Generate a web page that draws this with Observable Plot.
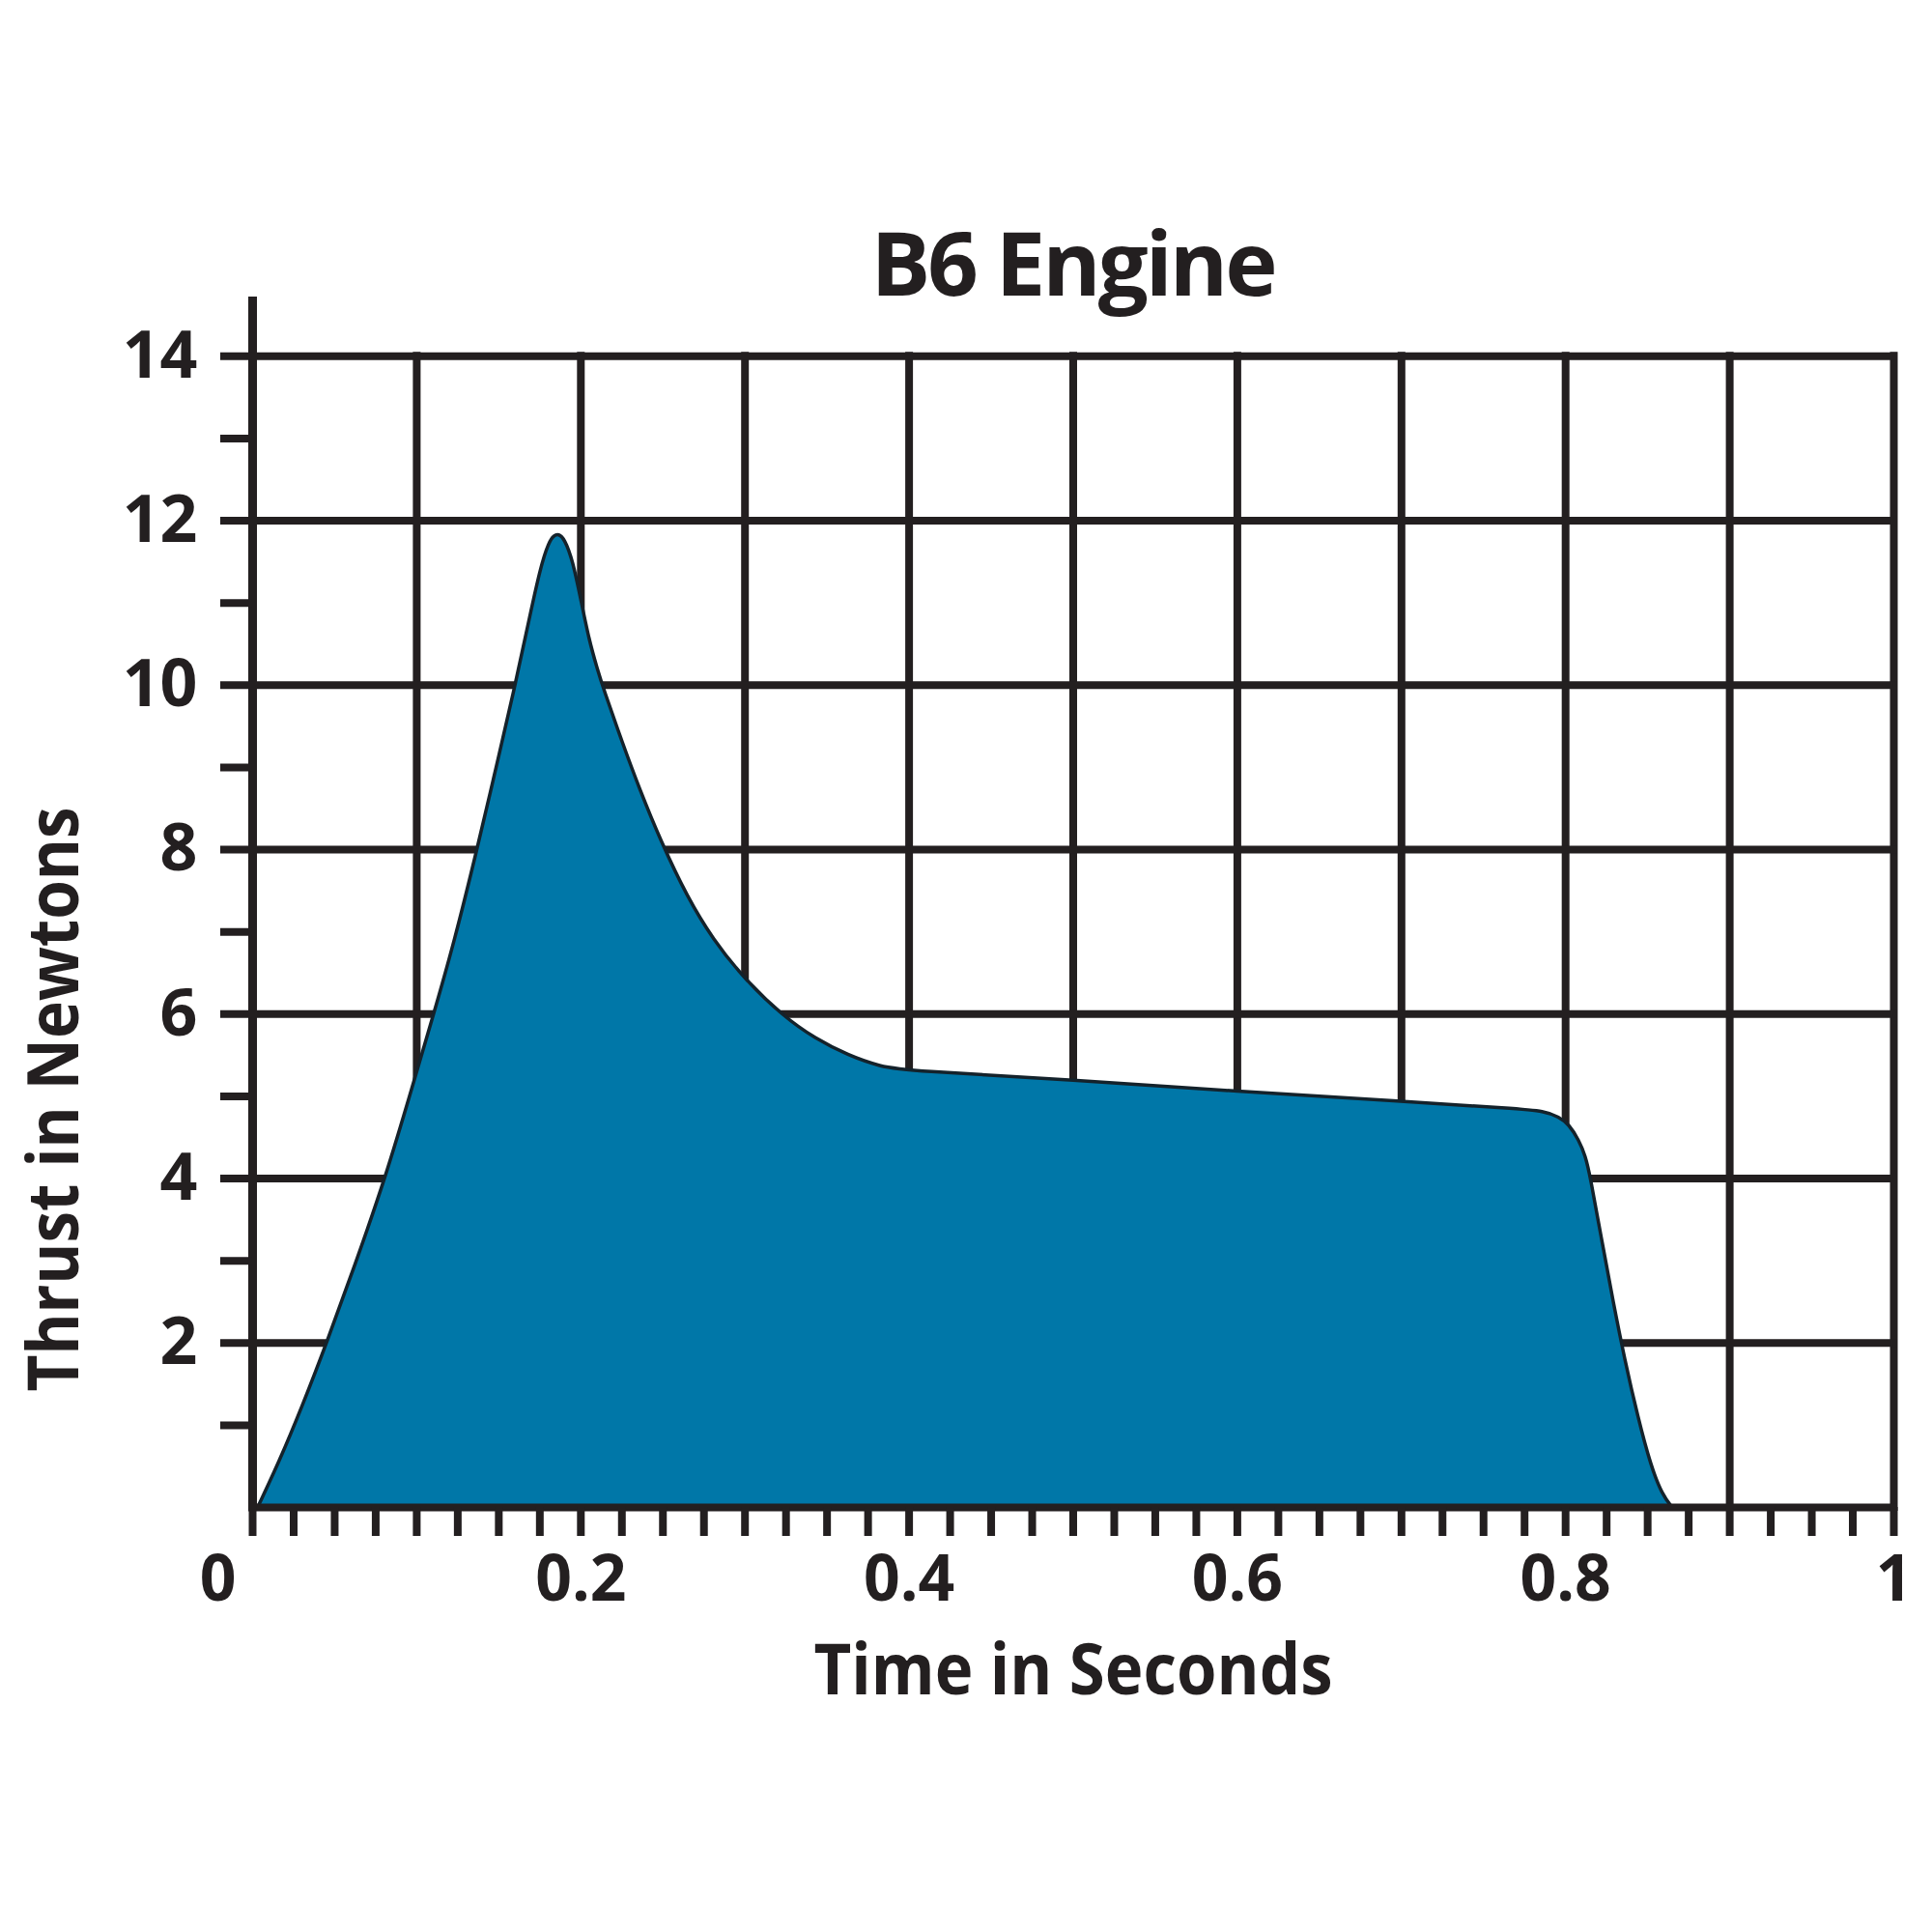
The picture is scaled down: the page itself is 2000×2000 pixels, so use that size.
<!DOCTYPE html>
<html>
<head>
<meta charset="utf-8">
<script src="https://cdn.jsdelivr.net/npm/d3@7"></script>
<script src="https://cdn.jsdelivr.net/npm/@observablehq/plot@0.6"></script>
<style>
  html, body { margin: 0; padding: 0; background: #ffffff; }
  #wrap { width: 2000px; height: 2000px; position: relative; overflow: hidden; }
  #title { position: relative; height: 290px; width: 2000px; }
  #title span {
    position: absolute; left: 0; width: 2221px; top: 225px;
    text-align: center; font-family: "Open Sans", "Noto Sans", sans-serif;
    font-weight: 700; font-size: 92px; line-height: 92px; letter-spacing: -3px; color: #231f20;
    white-space: nowrap;
  }
  #chart svg { display: block; overflow: visible; }
</style>
</head>
<body>
<div id="wrap">
  <div id="title"><span id="titleText"></span></div>
  <div id="chart"></div>
</div>
<script>
// ---- data ----
const titleText = "B6 Engine";
const xTitle = "Time in Seconds";
const yTitle = "Thrust in Newtons";

const timeSeconds = [0.003, 0.016, 0.030, 0.0451, 0.062, 0.0808, 0.0975, 0.1103, 0.123, 0.1367,
  0.148, 0.160, 0.1676, 0.1755, 0.1805, 0.1835, 0.1865, 0.190, 0.195, 0.200,
  0.205, 0.210, 0.2137, 0.2255, 0.2353, 0.249, 0.2647, 0.2804, 0.300, 0.3235,
  0.343, 0.3627, 0.3824, 0.400, 0.500, 0.600, 0.700, 0.770, 0.787,
  0.796, 0.802, 0.808, 0.812, 0.815, 0.822, 0.829, 0.836, 0.844, 0.852,
  0.859, 0.865];
const thrustNewtons = [0, 0.55, 1.22, 2.0, 2.93, 4.0, 5.13, 6.0, 6.89, 8.0,
  8.97, 10.0, 10.72, 11.45, 11.74, 11.82, 11.84, 11.78, 11.52, 11.04,
  10.55, 10.20, 9.96, 9.29, 8.76, 8.09, 7.43, 6.91, 6.42, 5.97,
  5.70, 5.50, 5.36, 5.31, 5.20, 5.06, 4.94, 4.85, 4.82,
  4.75, 4.66, 4.47, 4.28, 4.03, 3.25, 2.50, 1.80, 1.10, 0.50,
  0.15, 0];

const xDomain = [0, 1];
const yDomain = [0, 14.72];           // the y axis line runs a little above 14
const xLabelTicks = [0.2, 0.4, 0.6, 0.8, 1];
const xZeroTick = [0];
const xGridTicks = [0.1, 0.2, 0.3, 0.4, 0.5, 0.6, 0.7, 0.8, 0.9, 1];
const xMinorTicks = d3.range(0, 41).map(i => +(i * 0.025).toFixed(3));
const yGridTicks = [2, 4, 6, 8, 10, 12, 14];
const yMinorTicks = [1, 2, 3, 4, 5, 6, 7, 8, 9, 10, 11, 12, 13, 14];
const yLabelTicks = [2, 4, 6, 8, 10, 12, 14];

const data = timeSeconds.map((t, i) => ({t, v: thrustNewtons[i]}));

const ink = "#231f20";
const blue = "#0077a8";
const font = "'Open Sans', 'Noto Sans', sans-serif";

document.getElementById("titleText").textContent = titleText;

const chart = Plot.plot({
  width: 2000,
  height: 1710,
  marginLeft: 261,
  marginRight: 40,
  marginTop: 17,
  marginBottom: 440,
  x: {domain: xDomain, axis: null},
  y: {domain: yDomain, axis: null},
  style: {fontFamily: font, fontWeight: 700, color: ink, background: "white", overflow: "visible"},
  marks: [
    Plot.gridX(xGridTicks, {y1: 0, y2: 14, stroke: ink, strokeOpacity: 1, strokeWidth: 8, strokeLinecap: "square"}),
    Plot.gridY(yGridTicks, {stroke: ink, strokeOpacity: 1, strokeWidth: 8, strokeLinecap: "square"}),
    Plot.areaY(data, {x: "t", y: "v", fill: blue, curve: "basis"}),
    Plot.lineY(data, {x: "t", y: "v", stroke: "#14222b", strokeWidth: 3.5, curve: "basis"}),
    Plot.ruleY([0], {stroke: ink, strokeWidth: 8, strokeLinecap: "square"}),
    Plot.ruleX([0], {stroke: ink, strokeWidth: 9}),
    Plot.axisY({ticks: yMinorTicks, tickSize: 33, tickPadding: 24, strokeWidth: 8, stroke: ink,
      tickFormat: d => yLabelTicks.includes(d) ? String(d) : "", fontSize: 68, fontWeight: 700, label: null, fill: ink}),
    Plot.axisX({ticks: xMinorTicks, tickSize: 30, strokeWidth: 8, stroke: ink, tickFormat: () => "", label: null}),
    Plot.axisX({ticks: xLabelTicks, tickSize: 0, tickPadding: 50, fontSize: 66, fontWeight: 700, fill: ink,
      tickFormat: d => String(d), label: null}),
    Plot.axisX({ticks: xZeroTick, tickSize: 0, tickPadding: 50, fontSize: 66, fontWeight: 700, fill: ink, dx: -36,
      tickFormat: d => String(d), label: null}),
    Plot.text([xTitle], {frameAnchor: "bottom", dy: 170, textAnchor: "middle", lineAnchor: "middle", fontSize: 73, fontWeight: 700, fill: ink}),
    Plot.text([yTitle], {frameAnchor: "left", dx: -204, dy: 204, rotate: -90, textAnchor: "middle", lineAnchor: "middle", fontSize: 73, fontWeight: 700, fill: ink})
  ]
});

const sel = d3.select(chart).selectAll("text");
sel.filter(function() { return this.textContent === xTitle; })
  .attr("textLength", 537).attr("lengthAdjust", "spacingAndGlyphs");
sel.filter(function() { return this.textContent === yTitle; })
  .attr("textLength", 605).attr("lengthAdjust", "spacingAndGlyphs");

document.getElementById("chart").appendChild(chart);
</script>
</body>
</html>
